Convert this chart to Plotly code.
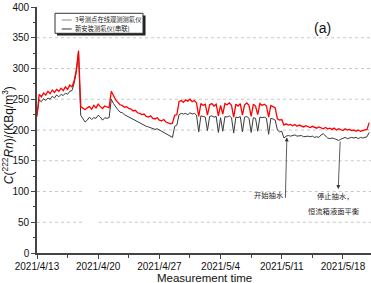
import pandas as pd
import plotly.graph_objects as go

# --- data (6-hour readings starting 2021-04-13 00:00) ---
start_time = "2021-04-13 00:00"
step = "6h"

red_series_name = "新安装测氡仪(串联)"
red_values = [
    222, 258, 254, 260,  257, 263, 259, 265,  261, 266, 263, 268,  264, 270, 266, 273,
    270, 280, 298, 329,  238, 235, 233, 236,  238, 234, 240, 236,  242, 238, 235, 239,
    237, 236, 263, 256,  249, 245, 241, 240,  237, 238, 235, 234,  231, 232, 228, 227,
    225, 226, 222, 221,  223, 219, 218, 220,  216, 215, 217, 213,  212, 210, 211, 224,
    225, 246, 248, 245,  249, 247, 250, 246,  248, 244, 222, 243,  240, 242, 224, 241,
    243, 239, 242, 223,  240, 226, 243, 241,  244, 240, 221, 242,  239, 243, 224, 241,
    244, 240, 222, 242,  239, 225, 243, 240,  242, 239, 221, 240,  238, 236, 218, 216,
    217, 208, 210, 208,  209, 207, 209, 206,  208, 207, 205, 207,  206, 204, 206, 205,
    203, 205, 204, 202,  204, 202, 203, 201,  203, 200, 202, 201,  199, 202, 200, 201,
    199, 200, 198, 200,  198, 199, 200, 201,  212,
]

black_series_name = "3号测点在线观测测氡仪"
black_values = [
    226, 249, 246, 251,  248, 252, 250, 255,  252, 257, 254, 258,  256, 260, 258, 263,
    264, 276, 294, 326,  224, 218, 213, 216,  221, 217, 220, 219,  224, 221, 216, 220,
    219, 220, 250, 243,  237, 233, 229, 228,  225, 223, 221, 220,  217, 215, 213, 211,
    210, 208, 206, 205,  204, 203, 201, 202,  200, 198, 197, 195,  193, 190, 188, 206,
    208, 225, 227, 226,  227, 225, 228, 226,  227, 224, 197, 223,  222, 221, 199, 222,
    223, 221, 222, 196,  220, 198, 222, 221,  223, 220, 195, 221,  220, 222, 197, 221,
    222, 219, 196, 220,  219, 198, 221, 220,  221, 219, 193, 219,  218, 216, 200, 197,
    198, 187, 190, 191,  190, 191, 192, 190,  190, 191, 189, 190,  190, 189, 190, 188,
    189, 188, 192, 194,  190, 187, 186, 187,  186, 185, 183, 185,  187, 188, 186, 187,
    188, 187, 188, 186,  188, 187, 188, 189,  196,
]

tick_dates = ["2021-04-13", "2021-04-20", "2021-04-27", "2021-05-04", "2021-05-11", "2021-05-18"]
tick_labels = ["2021/4/13", "2021/4/20", "2021/4/27", "2021/5/4", "2021/5/11", "2021/5/18"]
minor_tick_dates = ["2021-04-16 12:00", "2021-04-23 12:00", "2021-04-30 12:00",
                    "2021-05-07 12:00", "2021-05-14 12:00"]
grid_values = [50, 100, 150, 200, 250, 300, 350]

times = pd.date_range(start=start_time, periods=len(red_values), freq=step)

LAT = "Liberation Sans, Arial, sans-serif"
CJK = "Noto Sans CJK SC, sans-serif"

fig = go.Figure()
fig.add_trace(go.Scatter(x=times, y=black_values, mode="lines", name=black_series_name,
                         line=dict(color="#3a3a3a", width=1), showlegend=False))
fig.add_trace(go.Scatter(x=times, y=red_values, mode="lines", name=red_series_name,
                         line=dict(color="#ff0000", width=1.3), showlegend=False))

fig.update_layout(
    width=371, height=283,
    margin=dict(l=37, r=0, t=7, b=30),
    paper_bgcolor="white", plot_bgcolor="white",
    font=dict(family=LAT, size=10, color="#111"),
    showlegend=False,
)

fig.update_xaxes(
    type="date", range=["2021-04-13 00:00", "2021-05-21 05:00"],
    tickvals=tick_dates, ticktext=tick_labels,
    ticks="outside", ticklen=4, tickwidth=1, tickcolor="#444",
    minor=dict(tickvals=minor_tick_dates, ticks="outside", ticklen=3, tickcolor="#444", showgrid=False),
    showline=True, linecolor="#444", linewidth=1.6,
    showgrid=False, zeroline=False, automargin=False,
    ticklabelstandoff=-1,
    tickfont=dict(family=LAT, size=10, color="#111"),
)
fig.update_yaxes(
    range=[0, 400], dtick=50, tick0=0,
    ticks="outside", ticklen=4, tickwidth=1, tickcolor="#444",
    minor=dict(dtick=25, ticks="outside", ticklen=2, tickcolor="#444", showgrid=False),
    showline=True, linecolor="#444", linewidth=1.6,
    showgrid=False, zeroline=False, automargin=False,
    tickfont=dict(family=LAT, size=10, color="#111"),
)

# dotted horizontal gridlines (lower ones have a small gap, as in the original)
for g in grid_values:
    if g <= 150:
        segs = [(0.0, 0.135), (0.185, 1.0)]
    else:
        segs = [(0.0, 1.0)]
    for a, b in segs:
        fig.add_shape(type="line", xref="x domain", yref="y", x0=a, x1=b, y0=g, y1=g,
                      line=dict(color="#c8c8c8", width=1, dash="dot"), layer="below")

# axis titles as annotations
fig.add_annotation(
    xref="paper", yref="paper", x=-0.086, y=0.48, xanchor="center", yanchor="middle",
    text="<i>C</i>(<sup>222</sup><i>Rn</i>)/(KBq/m<sup>3</sup>)", textangle=-90,
    showarrow=False, font=dict(family=LAT, size=12, color="#111"),
)
fig.add_annotation(
    xref="paper", yref="paper", x=0.5, y=-0.1, xanchor="center", yanchor="middle",
    text="Measurement time", showarrow=False, font=dict(family=LAT, size=11.5, color="#111"),
)

# panel label
fig.add_annotation(xref="paper", yref="paper", x=0.886, y=0.955, text="(a)",
                   showarrow=False, font=dict(family=LAT, size=14, color="#111"))

# legend (manual, with drop shadow)
fig.add_shape(type="rect", xref="paper", yref="paper", x0=0.0599, x1=0.3249, y0=0.8841, y1=0.9654,
              fillcolor="#222", line=dict(width=0), layer="above")
fig.add_shape(type="rect", xref="paper", yref="paper", x0=0.0539, x1=0.3174, y0=0.8931, y1=0.9744,
              fillcolor="white", line=dict(color="#333", width=1), layer="above")
fig.add_shape(type="line", xref="paper", yref="paper", x0=0.074, x1=0.1039, y0=0.9472, y1=0.9472,
              line=dict(color="#888", width=1), layer="above")
fig.add_shape(type="line", xref="paper", yref="paper", x0=0.074, x1=0.1039, y0=0.9106, y1=0.9106,
              line=dict(color="#333", width=1), layer="above")
fig.add_annotation(xref="paper", yref="paper", x=0.1087, y=0.9472, xanchor="left", yanchor="middle",
                   text=black_series_name, showarrow=False, font=dict(family=CJK, size=6.3, color="#222"))
fig.add_annotation(xref="paper", yref="paper", x=0.1087, y=0.9106, xanchor="left", yanchor="middle",
                   text=red_series_name, showarrow=False, font=dict(family=CJK, size=6.3, color="#222"))

# event annotations
fig.add_annotation(x="2021-05-11 14:00", y=188, ax=-1.5, ay=62, text="", showarrow=True,
                   arrowhead=2, arrowsize=1, arrowwidth=0.8, arrowcolor="#333")
fig.add_annotation(x="2021-05-17 11:00", y=104, ax=2, ay=-49, text="", showarrow=True,
                   arrowhead=2, arrowsize=1, arrowwidth=0.8, arrowcolor="#333")
fig.add_annotation(x="2021-05-09 12:00", y=95, text="开始抽水", showarrow=False,
                   font=dict(family=CJK, size=7.3, color="#222"))
fig.add_annotation(x="2021-05-17 02:00", y=92.5, text="停止抽水，", showarrow=False,
                   font=dict(family=CJK, size=7.3, color="#222"))
fig.add_annotation(x="2021-05-16 23:00", y=68.7, text="恒流箱液面平衡", showarrow=False,
                   font=dict(family=CJK, size=7.3, color="#222"))

fig.write_html("out.html", config={"displayModeBar": False},
               post_script="document.body.style.margin='0';")
